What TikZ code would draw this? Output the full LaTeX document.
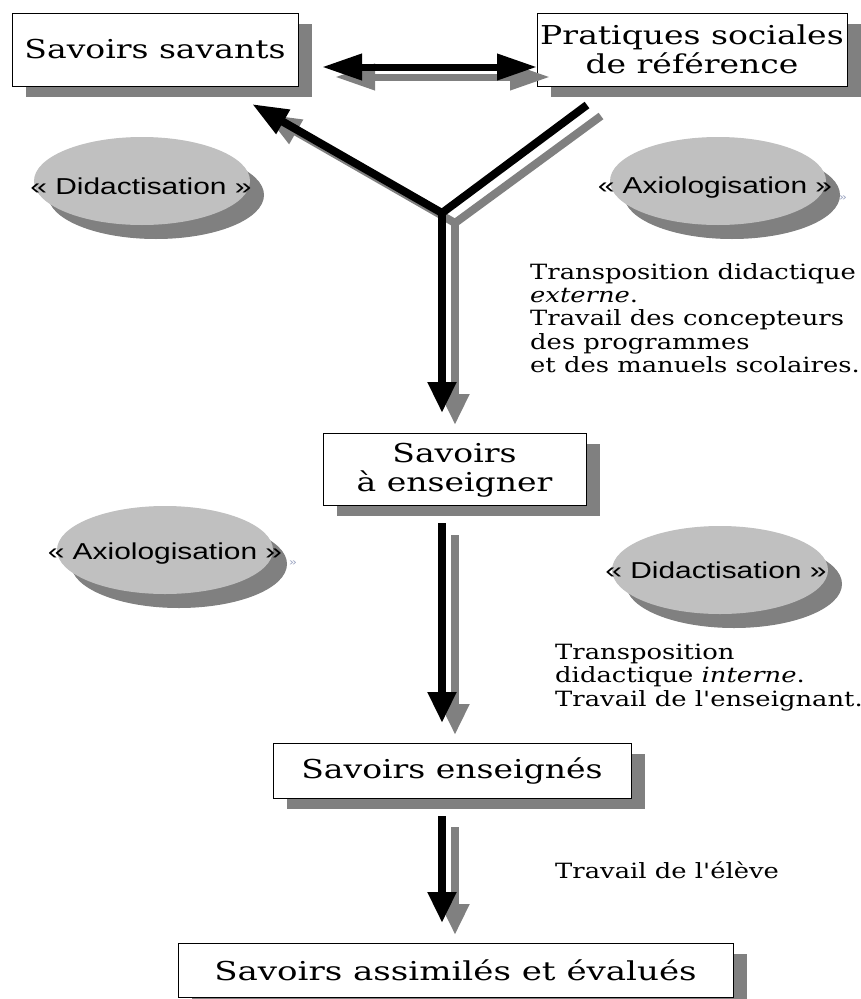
\documentclass[tikz,border=0pt]{standalone}
\usepackage{fontspec}
\newfontfamily\serf[FakeStretch=1.27]{DejaVu Serif}
\newfontfamily\notef[FakeStretch=1.23]{DejaVu Serif}
\newfontfamily\sansf[FakeStretch=1.3]{Liberation Sans}
\usetikzlibrary{arrows.meta,shapes.geometric,shadows,calc}
\definecolor{shadowgray}{RGB}{128,128,128}
\definecolor{ellgray}{RGB}{192,192,192}
\definecolor{tinyblue}{RGB}{150,160,190}
\begin{document}
\begin{tikzpicture}[x=1pt,y=-1pt,
  box/.style={draw=black, line width=0.9pt, fill=white, inner sep=0pt, align=center,
    font=\serf\fontsize{26}{29}\selectfont,
    drop shadow={shadow xshift=14pt, shadow yshift=-11pt, fill=shadowgray, opacity=1}},
  ell/.style={ellipse, fill=ellgray, minimum width=216pt, minimum height=88pt, inner sep=0pt,
    drop shadow={shadow xshift=14pt, shadow yshift=-14pt, fill=shadowgray, opacity=1}},
  elltext/.style={font=\sansf\fontsize{23}{26}\selectfont, inner sep=0pt, anchor=base},
  note/.style={font=\notef\fontsize{21}{23.3}\selectfont, align=left, inner sep=0pt, anchor=north west},
  blk/.style={line width=8pt, black, -{Triangle[length=31pt,width=27pt]}},
  gry/.style={line width=8pt, shadowgray, -{Triangle[length=31pt,width=27pt]}},
  blkarm/.style={line width=8pt, black, -{Triangle[length=36pt,width=26pt]}},
  gryarm/.style={line width=8pt, shadowgray, -{Triangle[length=36pt,width=26pt]}},
  blkline/.style={line width=8pt, black},
  gryline/.style={line width=8pt, shadowgray},
  dbl/.style={line width=7pt, {Triangle[length=40pt,width=25pt]}-{Triangle[length=40pt,width=25pt]}},
  tiny/.style={font=\sansf\fontsize{10}{10}\selectfont, text=tinyblue, inner sep=0pt},
]
\fill[white] (0,0) rectangle (861,999);
\useasboundingbox (0,0) rectangle (861,999);

% boxes
\node[box, minimum width=286pt, minimum height=73pt] (ss) at (155,49.5) {Savoirs savants};
\node[box, minimum width=310pt, minimum height=73pt] (prs) at (692,49.5) {Pratiques sociales\\de référence};
\node[box, minimum width=263pt, minimum height=72pt] (sae) at (454.5,469) {\rule{0pt}{21pt}Savoirs\\à enseigner};
\node[box, minimum width=358pt, minimum height=55pt] (se) at (452,770.5) {Savoirs enseignés};
\node[box, minimum width=555pt, minimum height=54pt] (sa) at (455.5,970) {\addfontfeature{FakeStretch=1.31}Savoirs assimilés et évalués};

% ellipses
\node[ell] (e1) at (142,181) {};
\node[elltext] (t1) at (141,194) {« Didactisation »};
\node[ell] (e2) at (718,181) {};
\node[elltext] (t2) at (715,193) {« Axiologisation »};
\node[tiny] (x2) at (843,198) {»};
\node[ell] (e3) at (165,550) {};
\node[elltext] (t3) at (165,559) {« Axiologisation »};
\node[tiny] (x3) at (293,563) {»};
\node[ell] (e4) at (720,570) {};
\node[elltext] (t4) at (716,578) {« Didactisation »};

% notes
\node[note] (n1) at (530,263) {Transposition didactique\\\textit{externe}.\\Travail des concepteurs\\des programmes\\et des manuels scolaires.};
\node[note] (n2) at (555,644) {Transposition\\didactique \textit{interne}.\\Travail de l'enseignant.};
\node[note, anchor=base west] (n3) at (555,878) {Travail de l'élève};

% connector points
\coordinate (jn) at (442,213);
\coordinate (ltip) at (252,104);
\coordinate (rend) at (587,105);
\coordinate (st) at (442,413);
\coordinate (a1) at (442,523);
\coordinate (b1) at (442,723);
\coordinate (a2) at (442,816);
\coordinate (b2) at (442,923);
\coordinate (dl) at (322,67);
\coordinate (dr) at (537,67);

% shadows of connectors
\draw[dbl, shadowgray] ($(dl)+(13,10)$) -- ($(dr)+(13,10)$);
\draw[gryline] ($(rend)+(14,11)$) -- ($(jn)+(13,10)$);
\draw[gryarm] ($(jn)+(13,10)$) -- ($(ltip)+(13,10)$);
\draw[gry] ($(jn)+(13,10)$) -- ($(st)+(13,12)$);
\draw[gry] ($(a1)+(13,12)$) -- ($(b1)+(13,12)$);
\draw[gry] ($(a2)+(13,11)$) -- ($(b2)+(13,12)$);

% connectors
\draw[dbl, black] (dl) -- (dr);
\draw[blkline] (rend) -- (jn);
\draw[blkarm] (jn) -- (ltip);
\draw[blk] (jn) -- (st);
\draw[blk] (a1) -- (b1);
\draw[blk] (a2) -- (b2);
\end{tikzpicture}
\end{document}
